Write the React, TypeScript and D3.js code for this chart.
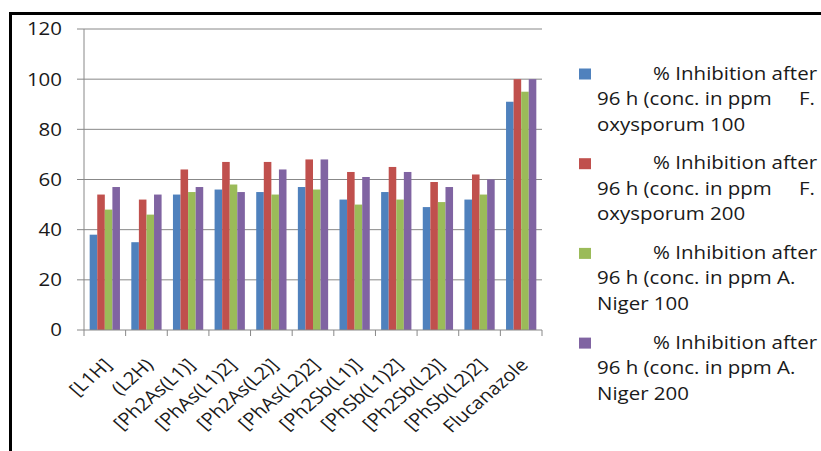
import React from 'react';
import * as d3 from 'd3';

const categories = [
  '[L1H]', '(L2H)', '[Ph2As(L1)]', '[PhAs(L1)2]', '[Ph2As(L2)]', '[PhAs(L2)2]',
  '[Ph2Sb(L1)]', '[PhSb(L1)2]', '[Ph2Sb(L2)]', '[PhSb(L2)2]', 'Flucanazole',
];
const fOxy100 = [38, 35, 54, 56, 55, 57, 52, 55, 49, 52, 91];
const fOxy200 = [54, 52, 64, 67, 67, 68, 63, 65, 59, 62, 100];
const aNiger100 = [48, 46, 55, 58, 54, 56, 50, 52, 51, 54, 95];
const aNiger200 = [57, 54, 57, 55, 64, 68, 61, 63, 57, 60, 100];
const yTicks = [0, 20, 40, 60, 80, 100, 120];

const seriesNames = ['fOxy100', 'fOxy200', 'aNiger100', 'aNiger200'];
const seriesValues = [fOxy100, fOxy200, aNiger100, aNiger200];
const colors = ['#4F81BD', '#C0504D', '#9BBB59', '#8064A2'];
// legend lines: [line1, line2 left, line2 right, line3]
const legendLines = [
  ['% Inhibition after', '96 h (conc. in ppm', 'F.', 'oxysporum 100'],
  ['% Inhibition after', '96 h (conc. in ppm', 'F.', 'oxysporum 200'],
  ['% Inhibition after', '96 h (conc. in ppm A.', '', 'Niger 100'],
  ['% Inhibition after', '96 h (conc. in ppm A.', '', 'Niger 200'],
];

const W = 821;
const H = 451;
const FONT = '"Open Sans", sans-serif';
const FS = 17.8;
const SX = 1.15; // the picture is a bit stretched sideways
const TEXT = '#1a1a1a';
const GRID = '#888';

function SText({ x, y, anchor = 'start', size = FS, dy = 0, rotate = 0, children }: any) {
  return (
    <text
      transform={`translate(${x},${y}) scale(${SX},1)${rotate ? ` rotate(${rotate})` : ''}`}
      textAnchor={anchor}
      dy={dy}
      fontFamily={FONT}
      fontSize={size}
      fill={TEXT}
    >
      {children}
    </text>
  );
}

export default function App() {
  const left = 84;
  const right = 542;
  const top = 29;
  const bottom = 330;

  const x = d3.scaleBand().domain(categories).range([left, right]).padding(0);
  const xs = d3.scaleBand().domain(seriesNames).range([0, x.bandwidth()])
    .paddingInner(0).paddingOuter(0.75);
  const y = d3.scaleLinear().domain([0, 120]).range([bottom, top]);

  const boundaries = d3.range(categories.length + 1).map((i) => left + i * x.step());

  return (
    <svg width={W} height={H} style={{ position: 'absolute', left: 0, top: 0, background: '#fff' }}>
      {/* frame */}
      <line x1={9} x2={W} y1={13.5} y2={13.5} stroke="#000" strokeWidth={3} />
      <line x1={10.5} x2={10.5} y1={12} y2={H} stroke="#000" strokeWidth={3} />

      {/* gridlines + y ticks */}
      {yTicks.map((t) => (
        <g key={t}>
          {t > 0 && <line x1={left} x2={right} y1={y(t)} y2={y(t)} stroke={GRID} strokeWidth={1} />}
          <line x1={left - 7} x2={left} y1={y(t)} y2={y(t)} stroke={GRID} strokeWidth={1} />
          <SText x={62} y={y(t)} anchor="end" dy="0.36em">{t}</SText>
        </g>
      ))}

      {/* bars */}
      {categories.map((c, i) => (
        <g key={c} transform={`translate(${x(c)},0)`}>
          {seriesValues.map((vals, s) => (
            <rect
              key={s}
              x={xs(seriesNames[s])}
              y={y(vals[i])}
              width={xs.bandwidth()}
              height={bottom - y(vals[i])}
              fill={colors[s]}
            />
          ))}
        </g>
      ))}

      {/* axes */}
      <line x1={left} x2={left} y1={top} y2={bottom} stroke={GRID} strokeWidth={1} />
      <line x1={left} x2={right} y1={bottom} y2={bottom} stroke={GRID} strokeWidth={1} />
      {boundaries.map((bx, i) => (
        <line key={i} x1={bx} x2={bx} y1={bottom} y2={bottom + 6} stroke={GRID} strokeWidth={1} />
      ))}

      {/* x labels */}
      {categories.map((c) => (
        <SText
          key={c}
          x={(x(c) as number) + x.bandwidth() / 2 + 8}
          y={bottom + 36}
          anchor="end"
          size={17.5}
          rotate={-45}
        >
          {c}
        </SText>
      ))}

      {/* legend */}
      {legendLines.map((lines, s) => {
        const base = 79.5 + s * 89.7;
        return (
          <g key={s}>
            <rect x={579} y={base - 11} width={12} height={11} fill={colors[s]} />
            <SText x={817} y={base} anchor="end">{lines[0]}</SText>
            <SText x={597} y={base + 25.5}>{lines[1]}</SText>
            {lines[2] && <SText x={815} y={base + 25.5} anchor="end">{lines[2]}</SText>}
            <SText x={597} y={base + 51}>{lines[3]}</SText>
          </g>
        );
      })}
    </svg>
  );
}
